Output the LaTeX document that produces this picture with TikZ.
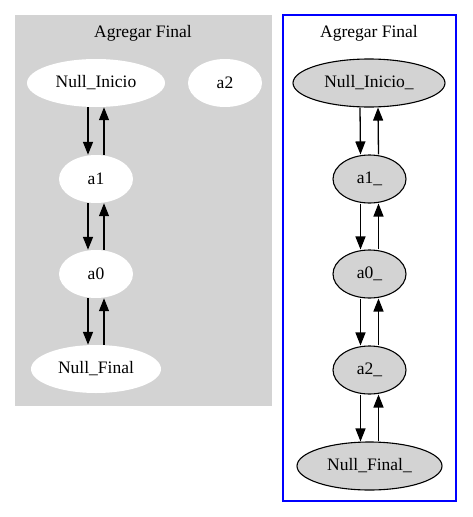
\documentclass[tikz,border=0pt]{standalone}
\usepackage{fontspec}
\setmainfont{Liberation Serif}
\usetikzlibrary{shapes.geometric,arrows.meta}
\definecolor{gvgray}{HTML}{D3D3D3}
\definecolor{gvblue}{HTML}{0000FF}
\begin{document}
\begin{tikzpicture}[x=1pt,y=-1pt,
  every node/.style={font=\fontsize{17.5pt}{20pt}\selectfont},
  wnode/.style={ellipse,fill=white,draw=none,inner sep=0pt,minimum height=48pt},
  gnode/.style={ellipse,fill=gvgray,draw=black,line width=1.1pt,inner sep=0pt,minimum height=48pt},
  edge/.style={line width=1.3pt,-{Triangle[length=13pt,width=10pt]}},
  cluster/.style={line width=1.15pt}]
\useasboundingbox (0,0) rectangle (472,517);
% left cluster
\fill[gvgray] (15,15) rectangle (272,406);
\node (t1) at (143,33) {Agregar Final};
\node[wnode,minimum width=138pt] (ni) at (96,83) {Null\_Inicio};
\node[wnode,minimum width=74pt] (a2) at (225,83) {a2};
\node[wnode,minimum width=74pt] (a1) at (96,179) {a1};
\node[wnode,minimum width=74pt] (a0) at (96,274) {a0};
\node[wnode,minimum width=130pt] (nf) at (96,369) {Null\_Final};
\draw[edge] ([xshift=-8pt]ni.south) -- ([xshift=-8pt]a1.north);
\draw[edge] ([xshift=8pt]a1.north) -- ([xshift=8pt]ni.south);
\draw[edge] ([xshift=-8pt]a1.south) -- ([xshift=-8pt]a0.north);
\draw[edge] ([xshift=8pt]a0.north) -- ([xshift=8pt]a1.south);
\draw[edge] ([xshift=-8pt]a0.south) -- ([xshift=-8pt]nf.north);
\draw[edge] ([xshift=8pt]nf.north) -- ([xshift=8pt]a0.south);
% right cluster
\draw[gvblue,cluster] (283,15) rectangle (456,501);
\node (t2) at (369,33) {Agregar Final};
\node[gnode,minimum width=152pt] (ni2) at (369,83) {Null\_Inicio\_};
\node[gnode,minimum width=73pt] (b1) at (369.5,179) {a1\_};
\node[gnode,minimum width=73pt] (b0) at (369.5,274) {a0\_};
\node[gnode,minimum width=73pt] (b2) at (369.5,370) {a2\_};
\node[gnode,minimum width=145pt] (nf2) at (369.5,466) {Null\_Final\_};
\draw[edge] ([xshift=-9pt]ni2.south) -- ([xshift=-9pt]b1.north);
\draw[edge] ([xshift=9pt]b1.north) -- ([xshift=9pt]ni2.south);
\draw[edge] ([xshift=-9pt]b1.south) -- ([xshift=-9pt]b0.north);
\draw[edge] ([xshift=9pt]b0.north) -- ([xshift=9pt]b1.south);
\draw[edge] ([xshift=-9pt]b0.south) -- ([xshift=-9pt]b2.north);
\draw[edge] ([xshift=9pt]b2.north) -- ([xshift=9pt]b0.south);
\draw[edge] ([xshift=-9pt]b2.south) -- ([xshift=-9pt]nf2.north);
\draw[edge] ([xshift=9pt]nf2.north) -- ([xshift=9pt]b2.south);
\end{tikzpicture}
\end{document}
